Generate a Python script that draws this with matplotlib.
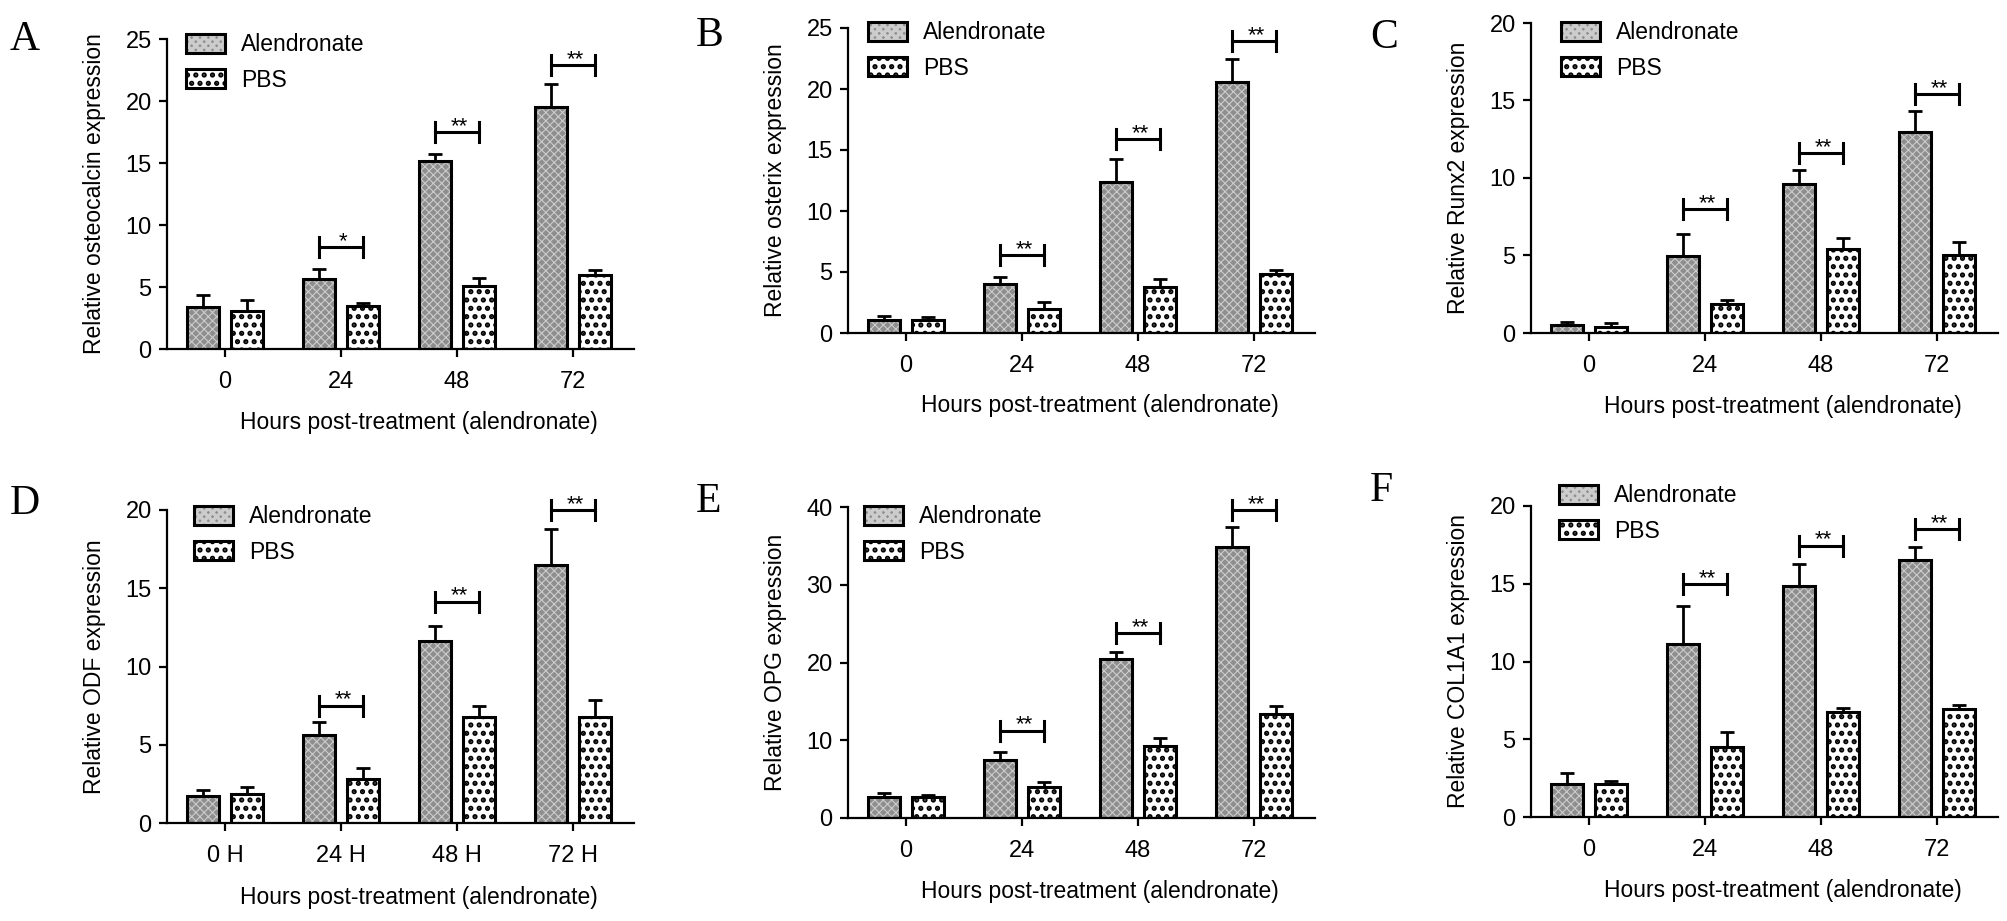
import matplotlib.pyplot as plt
from matplotlib.patches import Patch
from matplotlib.legend_handler import HandlerTuple

plt.rcParams['font.family'] = ['Liberation Sans', 'DejaVu Sans']
plt.rcParams['hatch.linewidth'] = 0.8

# x categories (hours)
hours = ['0', '24', '48', '72']
hours_h = ['0 H', '24 H', '48 H', '72 H']

# A - osteocalcin
osteocalcin_ale = [3.4, 5.65, 15.15, 19.55]
osteocalcin_ale_err = [0.95, 0.8, 0.55, 1.8]
osteocalcin_pbs = [3.1, 3.5, 5.05, 6.0]
osteocalcin_pbs_err = [0.85, 0.2, 0.7, 0.35]
osteocalcin_sig_y = [None, 8.2, 17.5, 22.9]
osteocalcin_stars = ['', '*', '**', '**']

# B - osterix
osterix_ale = [1.1, 4.0, 12.4, 20.6]
osterix_ale_err = [0.3, 0.6, 1.9, 1.85]
osterix_pbs = [1.05, 1.95, 3.8, 4.85]
osterix_pbs_err = [0.3, 0.6, 0.6, 0.3]
osterix_sig_y = [None, 6.4, 15.9, 23.9]
osterix_stars = ['', '**', '**', '**']

# C - Runx2
runx2_ale = [0.5, 4.95, 9.6, 12.95]
runx2_ale_err = [0.2, 1.45, 0.9, 1.35]
runx2_pbs = [0.4, 1.9, 5.4, 5.05]
runx2_pbs_err = [0.25, 0.2, 0.7, 0.8]
runx2_sig_y = [None, 8.0, 11.6, 15.4]
runx2_stars = ['', '**', '**', '**']

# D - ODF
odf_ale = [1.75, 5.6, 11.6, 16.5]
odf_ale_err = [0.35, 0.85, 1.0, 2.3]
odf_pbs = [1.85, 2.8, 6.8, 6.8]
odf_pbs_err = [0.45, 0.7, 0.65, 1.05]
odf_sig_y = [None, 7.5, 14.15, 20.0]
odf_stars = ['', '**', '**', '**']

# E - OPG
opg_ale = [2.7, 7.4, 20.5, 34.9]
opg_ale_err = [0.55, 1.05, 0.9, 2.55]
opg_pbs = [2.7, 3.95, 9.3, 13.4]
opg_pbs_err = [0.2, 0.65, 1.0, 0.95]
opg_sig_y = [None, 11.25, 23.8, 39.6]
opg_stars = ['', '**', '**', '**']

# F - COL1A1
col1a1_ale = [2.15, 11.15, 14.85, 16.55]
col1a1_ale_err = [0.7, 2.4, 1.45, 0.8]
col1a1_pbs = [2.1, 4.5, 6.75, 6.95]
col1a1_pbs_err = [0.2, 0.95, 0.25, 0.25]
col1a1_sig_y = [None, 15.0, 17.45, 18.5]
col1a1_stars = ['', '**', '**', '**']

W, H = 2008, 921
fig = plt.figure(figsize=(W / 100, H / 100), dpi=100)

ALE_FACE = '#8e8e8e'
ALE_HATCH = '#cccccc'
PBS_HATCH_LW = 2.5


def pbs_hatch_width(patches):
    # thicker dots for the PBS pattern, if this matplotlib allows it per artist
    for p in patches:
        if hasattr(p, 'set_hatch_linewidth'):
            p.set_hatch_linewidth(PBS_HATCH_LW)


# letter, ylabel, ticklabels, data..., ymax, ystep, layout (left px, zero px, top px, legend x, legend y, letter x, letter y)
panels = [
    ('A', 'Relative osteocalcin expression', hours, osteocalcin_ale, osteocalcin_ale_err,
     osteocalcin_pbs, osteocalcin_pbs_err, osteocalcin_sig_y, osteocalcin_stars, 25, 5,
     (167, 349, 39, 186, 33, 10, 40)),
    ('B', 'Relative osterix expression', hours, osterix_ale, osterix_ale_err,
     osterix_pbs, osterix_pbs_err, osterix_sig_y, osterix_stars, 25, 5,
     (848, 333, 28, 868, 21, 696, 36)),
    ('C', 'Relative Runx2 expression', hours, runx2_ale, runx2_ale_err,
     runx2_pbs, runx2_pbs_err, runx2_sig_y, runx2_stars, 20, 5,
     (1531, 333, 23, 1561, 21, 1370, 38)),
    ('D', 'Relative ODF expression', hours_h, odf_ale, odf_ale_err,
     odf_pbs, odf_pbs_err, odf_sig_y, odf_stars, 20, 5,
     (167, 823, 510, 194, 505, 10, 504)),
    ('E', 'Relative OPG expression', hours, opg_ale, opg_ale_err,
     opg_pbs, opg_pbs_err, opg_sig_y, opg_stars, 40, 10,
     (848, 818, 507, 864, 505, 696, 502)),
    ('F', 'Relative COL1A1 expression', hours, col1a1_ale, col1a1_ale_err,
     col1a1_pbs, col1a1_pbs_err, col1a1_sig_y, col1a1_stars, 20, 5,
     (1531, 817, 506, 1559, 484, 1370, 491)),
]

AX_W = 467
off = 0.19
bw = 0.27

for (letter, ylabel, ticklabels, ale, ale_err, pbs, pbs_err, sig_y, stars,
     ymax, ystep, lay) in panels:
    left, zero, top, lx, ly, tx, ty = lay
    ax = fig.add_axes([left / W, 1 - zero / H, AX_W / W, (zero - top) / H])
    x = list(range(len(ticklabels)))
    xa = [i - off for i in x]
    xp = [i + off for i in x]

    ax.errorbar(xa, ale, yerr=[[0] * 4, ale_err], fmt='none', ecolor='black',
                elinewidth=2, capsize=5, capthick=2, zorder=1)
    ax.errorbar(xp, pbs, yerr=[[0] * 4, pbs_err], fmt='none', ecolor='black',
                elinewidth=2, capsize=5, capthick=2, zorder=1)
    ax.bar(xa, ale, bw, color=ALE_FACE, edgecolor=ALE_HATCH, hatch='xxxx',
           linewidth=0, zorder=2)
    ax.bar(xa, ale, bw, facecolor='none', edgecolor='black', linewidth=2.2, zorder=3)
    with plt.rc_context({'hatch.linewidth': PBS_HATCH_LW}):
        pb = ax.bar(xp, pbs, bw, color='white', edgecolor='black', hatch='..',
                    linewidth=2.2, zorder=2)
    pbs_hatch_width(pb)

    # significance brackets
    cap = 10 * ymax / (zero - top)
    for i, yb in enumerate(sig_y):
        if yb is None:
            continue
        ax.plot([xa[i], xp[i]], [yb, yb], color='black', lw=2.2, clip_on=False)
        for xe in (xa[i], xp[i]):
            ax.plot([xe, xe], [yb - cap, yb + cap], color='black', lw=2.2, clip_on=False)
        ax.annotate(stars[i], (x[i] + 0.02, yb), xytext=(0, 0), textcoords='offset points',
                    ha='center', va='baseline', fontsize=16, annotation_clip=False)

    ax.set_xlim(-0.5, 3.526)
    ax.set_ylim(0, ymax)
    ax.set_yticks(range(0, ymax + 1, ystep))
    ax.set_xticks(x)
    ax.set_xticklabels(ticklabels)
    for s in ('top', 'right'):
        ax.spines[s].set_visible(False)
    for s in ('left', 'bottom'):
        ax.spines[s].set_linewidth(1.6)
    ax.tick_params(direction='out', length=6, width=1.6, labelsize=17, pad=5)
    ax.tick_params(axis='x', pad=10)
    ax.set_ylabel(ylabel, fontsize=16.5, labelpad=14)
    ax.set_xlabel('Hours post-treatment (alendronate)', fontsize=16.5, labelpad=14)
    ax.xaxis.set_label_coords(0.54, -0.2)

    h_ale = (Patch(facecolor=ALE_FACE, edgecolor=ALE_HATCH, hatch='xxxx', linewidth=0),
             Patch(facecolor='none', edgecolor='black', linewidth=2.2))
    with plt.rc_context({'hatch.linewidth': PBS_HATCH_LW}):
        h_pbs = Patch(facecolor='white', edgecolor='black', hatch='..', linewidth=2.2)
    pbs_hatch_width([h_pbs])
    leg = ax.legend([h_ale, h_pbs], ['Alendronate', 'PBS'],
                    handler_map={tuple: HandlerTuple(ndivide=1, pad=0)},
                    loc='upper left', bbox_to_anchor=(lx / W, 1 - ly / H),
                    bbox_transform=fig.transFigure, frameon=False, fontsize=16.5,
                    borderpad=0, borderaxespad=0, handlelength=1.7, handleheight=0.9,
                    handletextpad=0.7, labelspacing=0.55)
    pbs_hatch_width(leg.get_patches())

    fig.text(tx / W, 1 - ty / H, letter, family='Liberation Serif', fontsize=30,
             ha='left', va='center')

fig.savefig('out.png', dpi=100)
